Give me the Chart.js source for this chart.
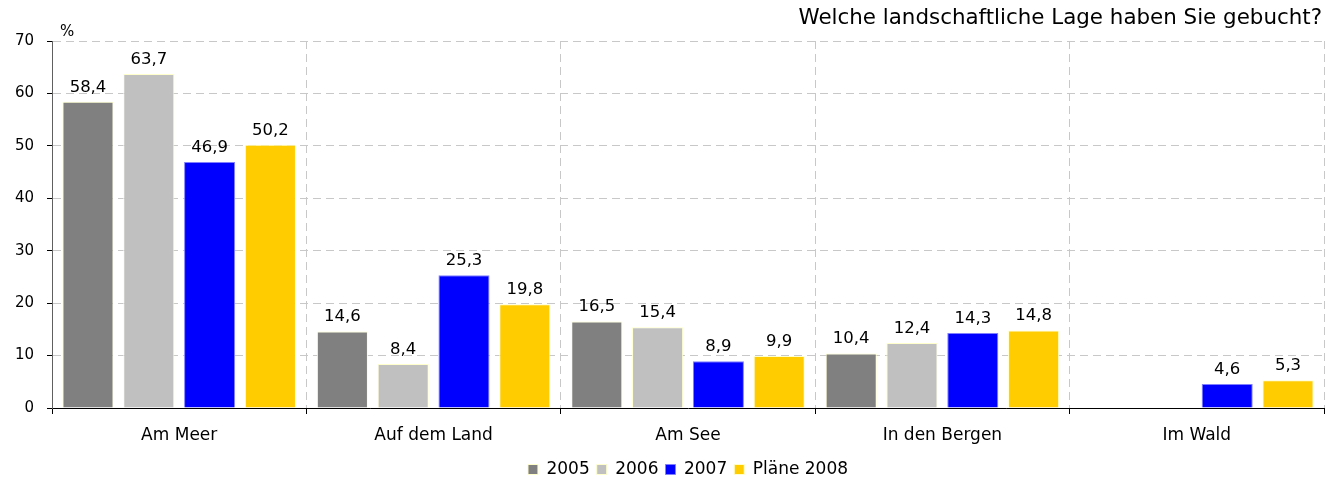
<!DOCTYPE html>
<html>
<head>
<meta charset="utf-8">
<script src="https://cdn.jsdelivr.net/npm/chart.js@4/dist/chart.umd.min.js"></script>
<style>
  html, body { margin: 0; padding: 0; background: #fff; }
  #wrap { width: 1325px; height: 481px; position: relative; }
</style>
</head>
<body>
<div id="wrap"><canvas id="chart"></canvas></div>
<script>
// --- Data ---
const categories = ["Am Meer", "Auf dem Land", "Am See", "In den Bergen", "Im Wald"];
const values2005 = [58.4, 14.6, 16.5, 10.4, null];
const values2006 = [63.7, 8.4, 15.4, 12.4, null];
const values2007 = [46.9, 25.3, 8.9, 14.3, 4.6];
const values2008 = [50.2, 19.8, 9.9, 14.8, 5.3];
const seriesNames = ["2005", "2006", "2007", "Pläne 2008"];
const yTicks = [0, 10, 20, 30, 40, 50, 60, 70];

const FONT = "DejaVu Sans, Verdana, sans-serif";

// --- Value labels above bars ---
const valueLabels = {
  id: "valueLabels",
  afterDatasetsDraw(chart) {
    const ctx = chart.ctx;
    ctx.save();
    ctx.font = "16.5px " + FONT;
    ctx.fillStyle = "#000";
    ctx.textAlign = "center";
    ctx.textBaseline = "alphabetic";
    chart.data.datasets.forEach((ds, i) => {
      chart.getDatasetMeta(i).data.forEach((bar, j) => {
        const v = ds.data[j];
        if (v == null) return;
        ctx.fillText(v.toFixed(1).replace(".", ","), bar.x, bar.y - 10);
      });
    });
    ctx.restore();
  }
};

// --- Title and % unit ---
const extraText = {
  id: "extraText",
  afterDraw(chart) {
    const ctx = chart.ctx;
    const area = chart.chartArea;
    ctx.save();
    ctx.fillStyle = "#000";
    ctx.font = "21.4px " + FONT;
    ctx.textAlign = "right";
    ctx.textBaseline = "alphabetic";
    ctx.fillText("Welche landschaftliche Lage haben Sie gebucht?", chart.width - 3, 24);
    ctx.font = "15px " + FONT;
    ctx.textAlign = "left";
    ctx.fillText("%", area.left + 8, area.top - 5);
    ctx.restore();
  }
};

// legend is centred under the plot area, not the whole canvas
const legendUnderPlot = {
  id: "legendUnderPlot",
  afterLayout(chart) {
    if (!chart.legend) return;
    chart.legend.left = chart.chartArea.left;
    chart.legend.right = chart.chartArea.right;
  }
};

const border = "#ffffcc";

new Chart(document.getElementById("chart"), {
  type: "bar",
  data: {
    labels: categories,
    datasets: [
      { label: seriesNames[0], data: values2005, backgroundColor: "#808080", borderColor: border, borderWidth: 1 },
      { label: seriesNames[1], data: values2006, backgroundColor: "#c0c0c0", borderColor: border, borderWidth: 1 },
      { label: seriesNames[2], data: values2007, backgroundColor: "#0000ff", borderColor: "#8080ff", borderWidth: 1 },
      { label: seriesNames[3], data: values2008, backgroundColor: "#ffcc00", borderColor: border, borderWidth: 1 }
    ]
  },
  options: {
    responsive: true,
    maintainAspectRatio: false,
    animation: false,
    layout: { padding: { top: 41, right: 1, left: 0, bottom: -7 } },
    datasets: { bar: { categoryPercentage: 0.956, barPercentage: 0.84 } },
    plugins: {
      legend: {
        position: "bottom",
        labels: {
          boxWidth: 10, boxHeight: 10, padding: 7,
          color: "#000",
          font: { family: FONT, size: 17 }
        }
      },
      tooltip: { enabled: false },
      title: { display: false }
    },
    scales: {
      x: {
        grid: {
          offset: true,
          color: "#c8c8c8",
          tickLength: 6,
          tickColor: "#000",
          tickBorderDash: []
        },
        border: { display: true, color: "#000", width: 1, dash: [8, 5] },
        ticks: { color: "#000", font: { family: FONT, size: 17 }, padding: 11 },
        afterFit(scale) { scale.height = 46; }
      },
      y: {
        min: 0, max: 70,
        afterBuildTicks(scale) { scale.ticks = yTicks.map(v => ({ value: v })); },
        grid: {
          color: "#c8c8c8",
          tickLength: 5,
          tickColor: "#000",
          tickBorderDash: []
        },
        border: { display: true, color: "#606060", width: 1, dash: [8, 5] },
        ticks: { color: "#000", font: { family: FONT, size: 15 }, padding: 13 },
        afterFit(scale) { scale.width = 52; }
      }
    }
  },
  plugins: [valueLabels, extraText, legendUnderPlot]
});
</script>
</body>
</html>
